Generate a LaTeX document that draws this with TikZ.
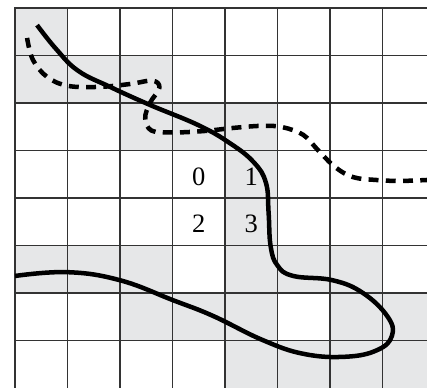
\documentclass[tikz,border=0pt]{standalone}
\usepackage{fontspec}
\setmainfont{Liberation Serif}
\definecolor{cellgray}{HTML}{E6E7E8}
\definecolor{gridline}{HTML}{333333}
\begin{document}
\begin{tikzpicture}[x=1.391cm, y=-1.259cm, line join=round,
		thin grid/.style={gridline, line width=0.9pt},
		thick grid/.style={gridline, line width=1.7pt, line cap=rect},
		solid curve/.style={line width=3.4pt},
		dashed curve/.style={line width=3.4pt, dash pattern=on 7.5pt off 5.5pt},
		digit/.style={font=\fontsize{20}{22}\selectfont, inner sep=0pt}]
	\useasboundingbox (-0.286,-0.168) rectangle (7.848,7.979);
	\clip (-0.286,-0.168) rectangle (7.848,7.979);
	\foreach \c/\r in {0/0, 0/1, 1/1, 2/1, 2/2, 3/2, 4/2, 4/3, 4/4, 0/5, 1/5, 2/5, 4/5, 5/5, 6/5,
			2/6, 3/6, 4/6, 6/6, 7/6, 4/7, 5/7, 6/7, 7/7}
		\fill[cellgray] (\c,\r) rectangle ++(1,1);
	\foreach \i in {1,2,3,5,6,7,8} {
		\draw[thin grid] (\i,0) -- (\i,8);
		\draw[thin grid] (0,\i) -- (8,\i);
	}
	\foreach \i in {0,4} {
		\draw[thick grid] (\i,0) -- (\i,8);
		\draw[thick grid] (0,\i) -- (8,\i);
	}
	\foreach \d/\c/\r in {0/3/3, 1/4/3, 2/3/4, 3/4/4}
		\node[digit] (n\d) at (\c+0.5,\r+0.55) {\d};
	\draw[solid curve] plot[smooth, tension=0.7] coordinates {
			(0.42,0.36) (0.78,0.86) (1.20,1.32) (1.81,1.66) (2.57,2.04) (3.50,2.47)
			(4.10,2.85) (4.55,3.25) (4.78,3.68) (4.83,4.30) (4.87,5.02) (5.00,5.42)
			(5.30,5.64) (6.05,5.73) (6.63,6.00) (7.10,6.50) (7.18,6.90) (6.90,7.20)
			(6.30,7.34) (5.50,7.28) (4.72,6.99) (3.77,6.48) (3.01,6.15) (2.00,5.73)
			(1.00,5.56) (0,5.64)};
	\draw[dashed curve] plot[smooth, tension=0.6] coordinates {
			(0.23,0.63) (0.34,1.09) (0.61,1.45) (1.01,1.64) (1.62,1.66) (2.19,1.60)
			(2.62,1.53) (2.75,1.68) (2.57,2.00) (2.48,2.32) (2.60,2.58)
			(3.00,2.62) (3.60,2.59) (4.20,2.52) (4.72,2.48) (5.10,2.51) (5.49,2.67)
			(5.77,2.99) (6.10,3.35) (6.44,3.56) (6.88,3.62) (7.33,3.64) (7.85,3.62)};
\end{tikzpicture}
\end{document}
